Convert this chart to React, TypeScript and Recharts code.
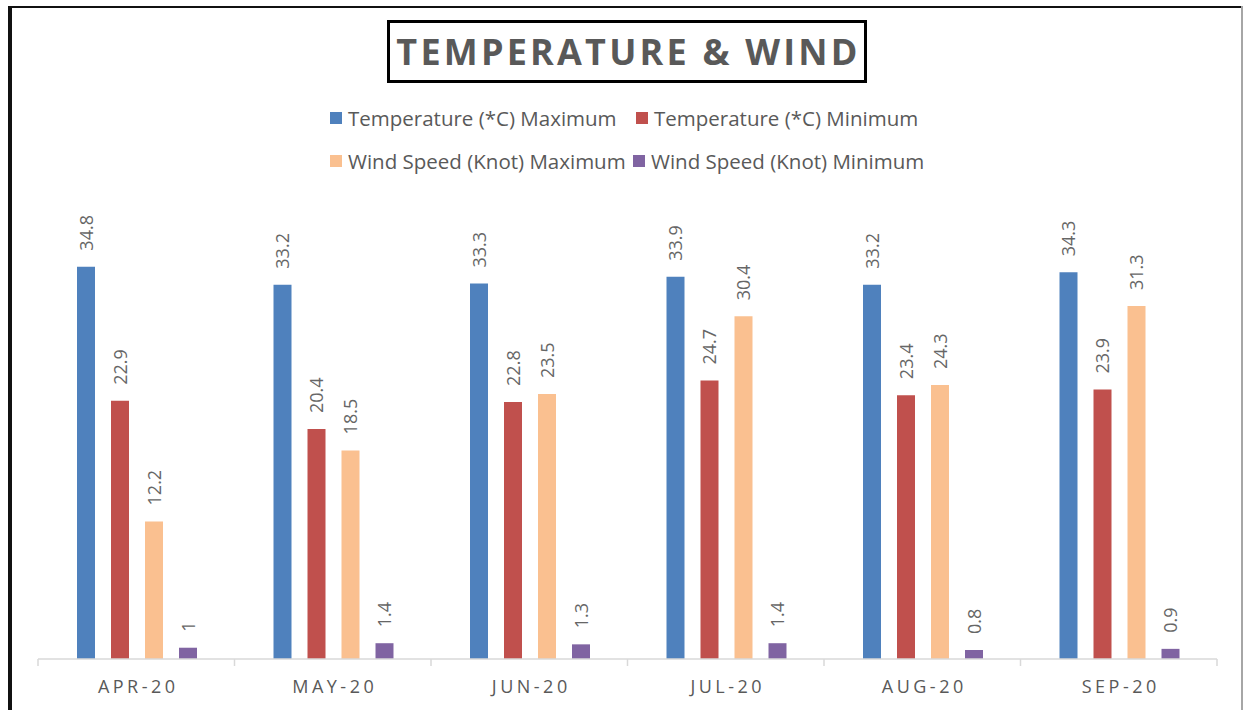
import React from 'react';
import { BarChart, Bar, XAxis, YAxis, LabelList, usePlotArea } from 'recharts';

const months = ['APR-20', 'MAY-20', 'JUN-20', 'JUL-20', 'AUG-20', 'SEP-20'];
const tempMax = [34.8, 33.2, 33.3, 33.9, 33.2, 34.3];
const tempMin = [22.9, 20.4, 22.8, 24.7, 23.4, 23.9];
const windMax = [12.2, 18.5, 23.5, 30.4, 24.3, 31.3];
const windMin = [1, 1.4, 1.3, 1.4, 0.8, 0.9];

const seriesKeys = ['tempMax', 'tempMin', 'windMax', 'windMin'];
const seriesNames = [
  'Temperature (*C) Maximum',
  'Temperature (*C) Minimum',
  'Wind Speed (Knot) Maximum',
  'Wind Speed (Knot) Minimum',
];
const seriesColors = ['#4f81bd', '#c0504d', '#fac090', '#8064a2'];

const data = months.map((m, i) => ({
  month: m,
  tempMax: tempMax[i],
  tempMin: tempMin[i],
  windMax: windMax[i],
  windMin: windMin[i],
}));

const FONT = '"Open Sans", sans-serif';
const GRAY = '#595959';

// legend placement, two rows like the original
const legendPos = [
  { left: 330, top: 118 },
  { left: 636, top: 118 },
  { left: 330, top: 161 },
  { left: 633, top: 161 },
];

function BarLabel(props: any) {
  const { x, y, width, value } = props;
  const cx = x + width / 2;
  const ty = y - 16;
  return (
    <text
      x={cx}
      y={ty}
      transform={`rotate(-90, ${cx}, ${ty})`}
      textAnchor="start"
      dominantBaseline="central"
      fill="#666"
      fontSize={18}
      fontFamily={FONT}
    >
      {value}
    </text>
  );
}

function MonthTick(props: any) {
  const { x, y, payload } = props;
  return (
    <text
      x={x + 2}
      y={y}
      dy={19}
      textAnchor="middle"
      dominantBaseline="central"
      fill={GRAY}
      fontSize={18}
      fontFamily={FONT}
      letterSpacing={3.5}
    >
      {payload.value}
    </text>
  );
}

// boundary ticks between month groups
function GroupTicks() {
  const area = usePlotArea();
  if (!area) return null;
  const step = area.width / months.length;
  const base = area.y + area.height;
  return (
    <g>
      {[...months, ''].map((_, i) => (
        <line
          key={i}
          x1={area.x + i * step}
          x2={area.x + i * step}
          y1={base}
          y2={base + 7}
          stroke="#d9d9d9"
          strokeWidth={1.5}
        />
      ))}
    </g>
  );
}

export default function App() {
  return (
    <div style={{ position: 'absolute', left: 0, top: 0, width: 1244, height: 710, background: '#fff', fontFamily: FONT }}>
      <div style={{ position: 'absolute', left: 8, top: 6, width: 1234, height: 2, background: '#111' }} />
      <div style={{ position: 'absolute', left: 8, top: 6, width: 4, height: 704, background: '#111' }} />
      <div style={{ position: 'absolute', left: 1241, top: 6, width: 2, height: 704, background: '#a6a6a6' }} />

      <div
        style={{
          position: 'absolute',
          left: 387,
          top: 20,
          width: 480,
          height: 63,
          boxSizing: 'border-box',
          border: '3px solid #000',
          display: 'flex',
          alignItems: 'center',
          justifyContent: 'center',
          color: GRAY,
          fontWeight: 700,
          fontSize: 36,
          letterSpacing: 3.2,
          paddingLeft: 3,
        }}
      >
        TEMPERATURE &amp; WIND
      </div>

      {seriesNames.map((name, i) => (
        <div
          key={name}
          style={{
            position: 'absolute',
            left: legendPos[i].left,
            top: legendPos[i].top - 12,
            height: 24,
            display: 'flex',
            alignItems: 'center',
            whiteSpace: 'nowrap',
            color: GRAY,
            fontSize: 20.5,
          }}
        >
          <span style={{ display: 'inline-block', width: 12, height: 12, background: seriesColors[i], marginRight: 6 }} />
          {name}
        </div>
      ))}

      <div style={{ position: 'absolute', left: 0, top: 0 }}>
        <BarChart
          width={1244}
          height={710}
          data={data}
          margin={{ top: 208, right: 27, left: 38, bottom: 0 }}
          barCategoryGap={39}
          barGap={16}
        >
          <XAxis
            dataKey="month"
            height={51}
            axisLine={{ stroke: '#d9d9d9', strokeWidth: 1.5 }}
            tickLine={false}
            tick={<MonthTick />}
            interval={0}
          />
          <YAxis hide domain={[0, 40]} />
          {seriesKeys.map((k, i) => (
            <Bar key={k} dataKey={k} name={seriesNames[i]} fill={seriesColors[i]} isAnimationActive={false}>
              <LabelList dataKey={k} content={<BarLabel />} />
            </Bar>
          ))}
          <GroupTicks />
        </BarChart>
      </div>
    </div>
  );
}
